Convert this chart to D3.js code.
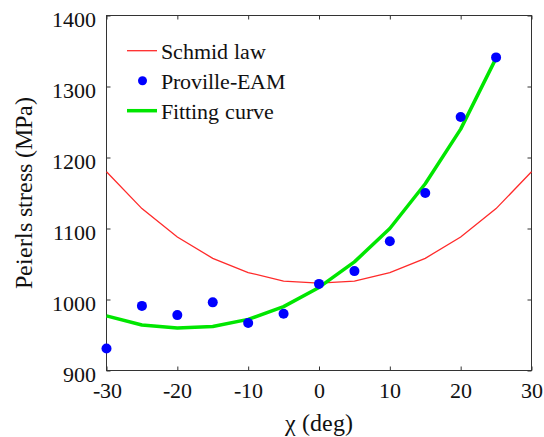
<!DOCTYPE html>
<html>
<head>
<meta charset="utf-8">
<script src="https://cdn.jsdelivr.net/npm/d3@7"></script>
<style>
  @font-face { font-family: "ChartSerif"; src: local("Liberation Serif"), local("LiberationSerif"), local("LiberationSerif-Regular"), local("Times New Roman"); }
  body { margin: 0; }
  svg { display: block; }
</style>
</head>
<body>
<svg id="chart" width="544" height="437"></svg>
<script>
// Misorientation angle chi (deg)
const chi = [-30, -25, -20, -15, -10, -5, 0, 5, 10, 15, 20, 25, 30];
// Schmid law prediction (MPa), every 5 deg from -30 to 30
const schmidLaw = [1180, 1128, 1088, 1058, 1038, 1026, 1023, 1026, 1038, 1058, 1088, 1128, 1180];
// Proville-EAM simulated Peierls stress (MPa), -30 to 25
const provilleChi = [-30, -25, -20, -15, -10, -5, 0, 5, 10, 15, 20, 25];
const provilleEAM = [931, 991, 978, 996, 967, 980, 1022, 1040, 1082, 1150, 1257, 1341];
// Fitting curve (MPa), -30 to 25
const fitChi = [-30, -25, -20, -15, -10, -5, 0, 5, 10, 15, 20, 25];
const fitCurve = [977, 964, 960, 962, 972, 990, 1017, 1053, 1100, 1163, 1240, 1340];

const xTicks = [-30, -20, -10, 0, 10, 20, 30];
const yTicks = [900, 1000, 1100, 1200, 1300, 1400];

const legendLabels = ["Schmid law", "Proville-EAM", "Fitting curve"];
const colors = { schmid: "#ff2a2a", eam: "#0000ff", fit: "#00e600" };
const serif = "'ChartSerif'";

const svg = d3.select("#chart");
const plotLeft = 106.5, plotRight = 531.5, plotTop = 15.5, plotBottom = 370.5;

const x = d3.scaleLinear().domain([-30, 30]).range([plotLeft, plotRight]);
const y = d3.scaleLinear().domain([900, 1400]).range([plotBottom, plotTop]);
const fmt = d => String(d);

// Axes with inward ticks
const gx = svg.append("g").attr("transform", `translate(0,${plotBottom})`)
  .call(d3.axisBottom(x).tickValues(xTicks).tickFormat(fmt)
    .tickSizeInner(-4).tickSizeOuter(0).tickPadding(0));
gx.selectAll("text").attr("y", 27).attr("dy", 0);

const gy = svg.append("g").attr("transform", `translate(${plotLeft},0)`)
  .call(d3.axisLeft(y).tickValues(yTicks).tickFormat(fmt)
    .tickSizeInner(-4).tickSizeOuter(0).tickPadding(0));
gy.selectAll("text").attr("x", -11).attr("dy", 0).attr("y", 10.5);

svg.append("g").attr("transform", `translate(0,${plotTop})`)
  .call(d3.axisTop(x).tickValues(xTicks).tickSizeInner(-4).tickSizeOuter(0).tickFormat(""));
svg.append("g").attr("transform", `translate(${plotRight},0)`)
  .call(d3.axisRight(y).tickValues(yTicks).tickSizeInner(-4).tickSizeOuter(0).tickFormat(""));

svg.selectAll(".domain").remove();
svg.selectAll(".tick line").attr("stroke", "#333");
svg.selectAll("g").attr("font-family", null).attr("font-size", null);
svg.selectAll(".tick text")
  .attr("fill", "#111")
  .style("font-family", serif)
  .style("font-size", "21.5px");

// Frame
svg.append("rect")
  .attr("x", plotLeft).attr("y", plotTop)
  .attr("width", plotRight - plotLeft).attr("height", plotBottom - plotTop)
  .attr("fill", "none").attr("stroke", "#333").attr("stroke-width", 1);

const line = d3.line().x(d => x(d[0])).y(d => y(d[1]));

// Schmid law
svg.append("path")
  .datum(chi.map((c, i) => [c, schmidLaw[i]]))
  .attr("d", line)
  .attr("fill", "none").attr("stroke", colors.schmid).attr("stroke-width", 1.3);

// Fitting curve
svg.append("path")
  .datum(fitChi.map((c, i) => [c, fitCurve[i]]))
  .attr("d", line)
  .attr("fill", "none").attr("stroke", colors.fit).attr("stroke-width", 3.5)
  .attr("stroke-linejoin", "round");

// Proville-EAM points
svg.append("g").selectAll("circle")
  .data(provilleChi.map((c, i) => [c, provilleEAM[i]]))
  .join("circle")
  .attr("cx", d => x(d[0])).attr("cy", d => y(d[1]))
  .attr("r", 5).attr("fill", colors.eam);

// Legend
const lg = svg.append("g");
const rowY = [50.7, 80.7, 110.7];
lg.append("line").attr("x1", 127).attr("x2", 157).attr("y1", rowY[0]).attr("y2", rowY[0])
  .attr("stroke", colors.schmid).attr("stroke-width", 1.3);
lg.append("circle").attr("cx", 142.5).attr("cy", rowY[1]).attr("r", 4.5).attr("fill", colors.eam);
lg.append("line").attr("x1", 127).attr("x2", 157).attr("y1", rowY[2]).attr("y2", rowY[2])
  .attr("stroke", colors.fit).attr("stroke-width", 3.5);
lg.selectAll("text").data(legendLabels).join("text")
  .attr("x", 161).attr("y", (d, i) => rowY[i] + 8)
  .attr("fill", "#111")
  .style("font-family", serif)
  .style("font-size", "21.5px")
  .text(d => d);

// Axis titles
svg.append("text")
  .attr("x", (plotLeft + plotRight) / 2).attr("y", 431)
  .attr("text-anchor", "middle").attr("fill", "#111")
  .style("font-family", serif).style("font-size", "24px")
  .text("χ (deg)");
svg.append("text")
  .attr("transform", `translate(32,${(plotTop + plotBottom) / 2}) rotate(-90)`)
  .attr("text-anchor", "middle").attr("fill", "#111")
  .style("font-family", serif).style("font-size", "24px")
  .text("Peierls stress (MPa)");
</script>
</body>
</html>
